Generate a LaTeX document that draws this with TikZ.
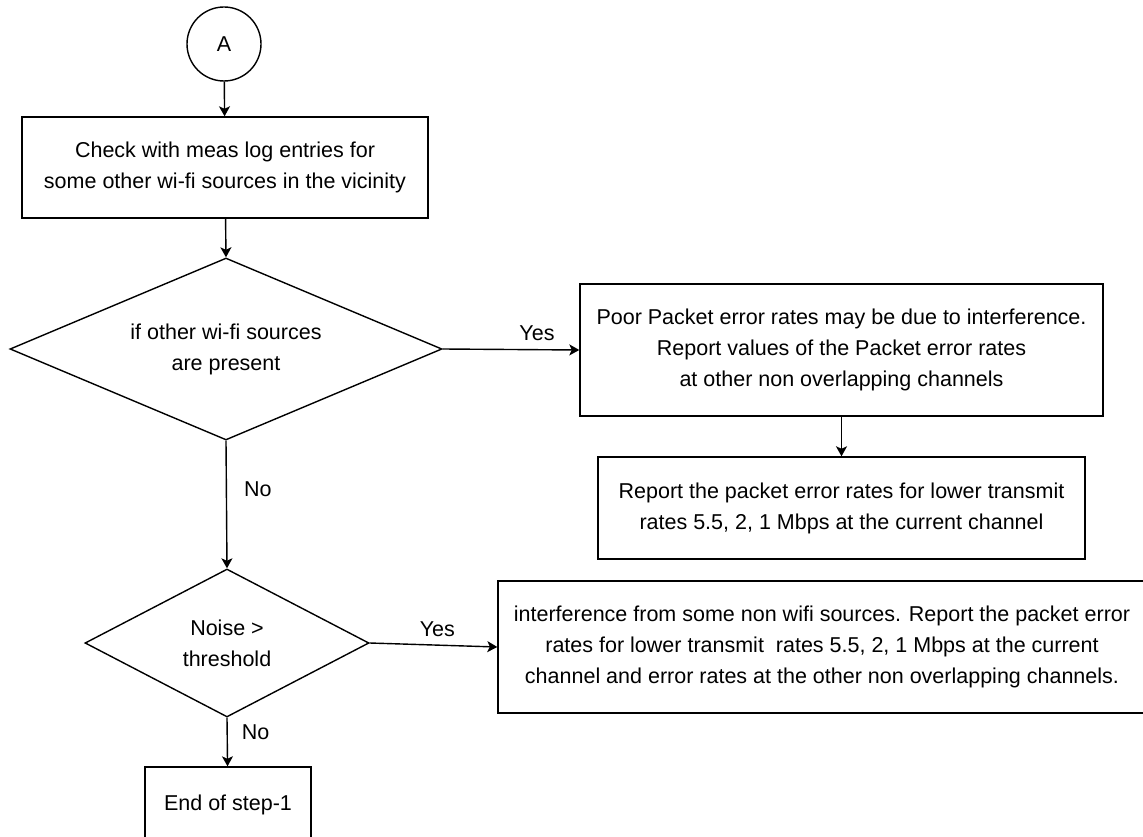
\documentclass[tikz,border=0pt]{standalone}
\usepackage{fontspec}
\setmainfont{Liberation Sans}
\usetikzlibrary{shapes.geometric,arrows.meta}
\begin{document}
\begin{tikzpicture}[x=1pt,y=-1pt,
  every node/.style={font=\fontsize{21.5}{31}\selectfont},
  boxnode/.style={draw, line width=1.4pt, align=center, inner sep=0pt},
  decnode/.style={draw, diamond, line width=1.4pt, inner sep=0pt},
  conn/.style={line width=1.4pt, -{Stealth[length=10pt,width=11pt,inset=2.5pt]}},
  lbl/.style={inner sep=0pt}
]
\clip (0,0) rectangle (1143,837);
\fill[white] (0,0) rectangle (1143,837);

\node[boxnode, circle, minimum size=74pt] (A) at (224,44) {A};
\node[boxnode, minimum width=406pt, minimum height=101pt] (r1) at (225,167.5)
  {Check with meas log entries for\\some other wi-fi sources in the vicinity};
\node[decnode, minimum width=432pt, minimum height=182pt,
  label={[align=center]center:if other wi-fi sources\\are present}] (d1) at (226,349) {};
\node[boxnode, minimum width=523pt, minimum height=132pt] (r2) at (841.5,350)
  {Poor Packet error rates may be due to interference.\\Report values of the Packet error rates\\at other non overlapping channels};
\node[boxnode, minimum width=487pt, minimum height=102pt] (r3) at (841.5,508)
  {Report the packet error rates for lower transmit\\rates 5.5, 2, 1 Mbps at the current channel};
\node[decnode, minimum width=284pt, minimum height=148pt,
  label={[align=center]center:Noise >\\threshold}] (d2) at (227,643) {};
\node[boxnode, minimum width=648pt, minimum height=132pt] (r4) at (822,647)
  {interference from some non wifi sources. Report the packet error\\rates for lower transmit\ \ rates 5.5, 2, 1 Mbps at the current\\channel and error rates at the other non overlapping channels.};
\node[boxnode, minimum width=166pt, minimum height=76pt] (r5) at (228,805)
  {End of step-1};

\draw[conn] (A) -- (r1);
\draw[conn] (r1) -- (d1.north);
\draw[conn] (d1.east) -- node[lbl, pos=0.69, above=8pt] (y1) {Yes} (r2.west);
\draw[conn] (r2) -- (r3);
\draw[conn] (d1.south) -- node[lbl, pos=0.38, right=17pt] (n1) {No} (d2.north);
\draw[conn] (d2.east) -- node[lbl, pos=0.53, above=8pt] (y2) {Yes} (r4.west);
\draw[conn] (d2.south) -- node[lbl, pos=0.3, right=14pt] (n2) {No} (r5);
\end{tikzpicture}
\end{document}
